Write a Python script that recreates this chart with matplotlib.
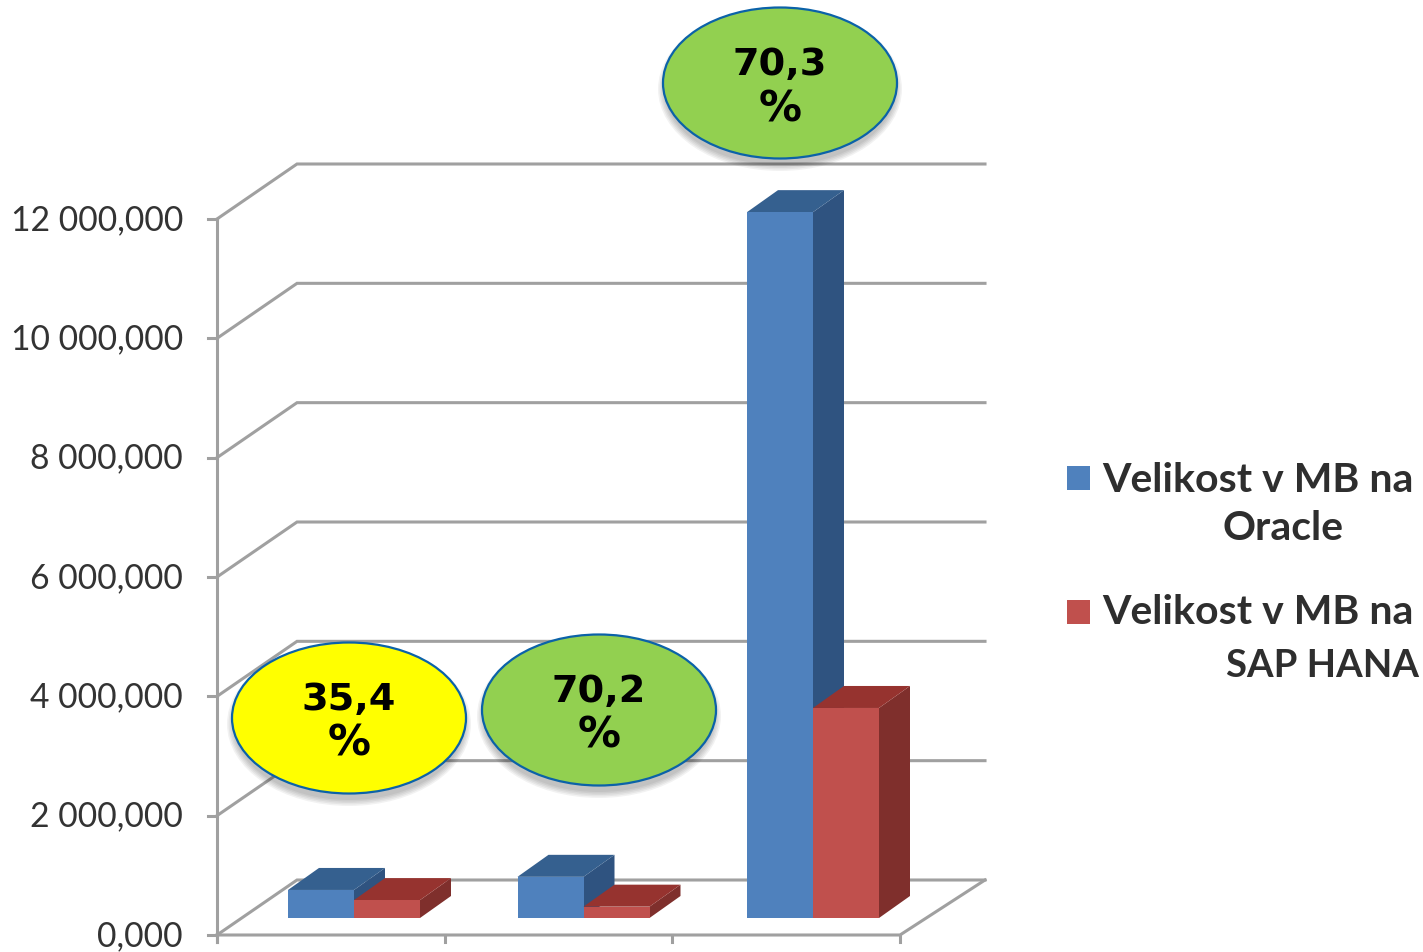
import numpy as np
import matplotlib
matplotlib.use('Agg')
import matplotlib.pyplot as plt
from matplotlib.patches import Polygon, Ellipse, Rectangle

# values
oracle = [470000, 690000, 11830000]
sap_hana = [300000, 190000, 3520000]
y_ticks = [0, 2000000, 4000000, 6000000, 8000000, 10000000, 12000000]
y_labels = ['0,000', '2 000,000', '4 000,000', '6 000,000', '8 000,000', '10 000,000', '12 000,000']
bubble_labels = ['35,4', '70,2', '70,3']
bubble_colors = ['#ffff00', '#92d050', '#92d050']
legend_names = ['Velikost v MB na', 'Oracle', 'Velikost v MB na', 'SAP HANA']

W, H = 1423, 952
GRID = '#a0a0a0'
TEXT = '#333333'

# scale of the chart: 3 categories over 683 px, 12M over 716 px
px_x = 683 / 3
px_y = 716 / 12000000

fig = plt.figure(figsize=(W / 100, H / 100), dpi=100)
ax = fig.add_axes([0, 0, 1, 1])
ax.set_xlim(-217 / px_x, (W - 217) / px_x)
ax.set_ylim(-(H - 935) / px_y, 935 / px_y)
ax.axis('off')

# second axes in pixels for the callouts and legend
over = fig.add_axes([0, 0, 1, 1], zorder=5)
over.set_xlim(0, W)
over.set_ylim(H, 0)
over.axis('off')
over.patch.set_alpha(0)

# back grid lines and left wall
wall_dx = 80 / px_x
wall_dy = 55 / px_y
right = 3 + 85 / px_x
for t, lab in zip(y_ticks, y_labels):
    ax.plot([0, wall_dx, right], [t, t + wall_dy, t + wall_dy], color=GRID, lw=2.2, solid_joinstyle='miter')
    ax.plot([-9 / px_x, 0], [t, t], color=GRID, lw=2.2)
    ax.text(-34 / px_x, t - 1 / px_y, lab, ha='right', va='center', fontsize=24.2, family='Lato', color=TEXT)

ax.plot([0, 0], [-7 / px_y, 12000000], color=GRID, lw=2.2)
ax.plot([0, 3, right], [0, 0, wall_dy], color=GRID, lw=2.2)
for c in range(4):
    ax.plot([c, c], [-7 / px_y, 0], color=GRID, lw=2.2)


def draw_bar(left, width, value, front, top, side):
    # base of the bars sits 17 px above the front floor edge
    base = 17 / px_y
    dx = 31 / px_x
    dy = 22 / px_y
    l, r, b, t = left, left + width, base, base + value
    ax.add_patch(Polygon([(r, b), (r + dx, b + dy), (r + dx, t + dy), (r, t)], fc=side, ec='none', zorder=3))
    ax.add_patch(Polygon([(l, t), (l + dx, t + dy), (r + dx, t + dy), (r, t)], fc=top, ec='none', zorder=3))
    ax.add_patch(Rectangle((l, b), width, value, fc=front, ec='none', zorder=3))


bar_w = 66 / px_x
bar_off = 71 / px_x
bar_step = 229.5 / px_x
for i in range(3):
    left = bar_off + i * bar_step
    draw_bar(left, bar_w, oracle[i], '#4f81bd', '#35608f', '#2f5380')
    draw_bar(left + bar_w, bar_w, sap_hana[i], '#c0504d', '#96332f', '#7f2f2c')

# callouts
centers = [(349, 718), (599, 710), (780, 83)]
for (cx, cy), lab, col in zip(centers, bubble_labels, bubble_colors):
    for k in [14, 11, 8, 5, 2]:
        over.add_patch(Ellipse((cx, cy + 6), 230 + k, 150 + k, fc='black', ec='none', alpha=0.05))
    over.add_patch(Ellipse((cx, cy), 234, 151, fc=col, ec='#0b62a8', lw=1.6))
    over.text(cx, cy - 18, lab, ha='center', va='center', fontsize=27.5, fontweight='bold',
              family='DejaVu Sans', color='black')
    over.text(cx, cy + 26, '%', ha='center', va='center', fontsize=31, fontweight='bold',
              family='DejaVu Sans', color='black')

# legend
over.add_patch(Rectangle((1067, 466), 23, 24, fc='#4f81bd', ec='none'))
over.add_patch(Rectangle((1067, 600), 23, 24, fc='#c0504d', ec='none'))
leg_pos = [(1258, 480), (1283, 528), (1258, 613), (1322, 666)]
leg_size = [29.5, 29.5, 29.5, 27.5]
for (x, y), name, size in zip(leg_pos, legend_names, leg_size):
    over.text(x, y, name, ha='center', va='center', fontsize=size, family='Lato',
              fontweight='bold', color='#2e2e2e')

fig.savefig('out.png', dpi=100)
